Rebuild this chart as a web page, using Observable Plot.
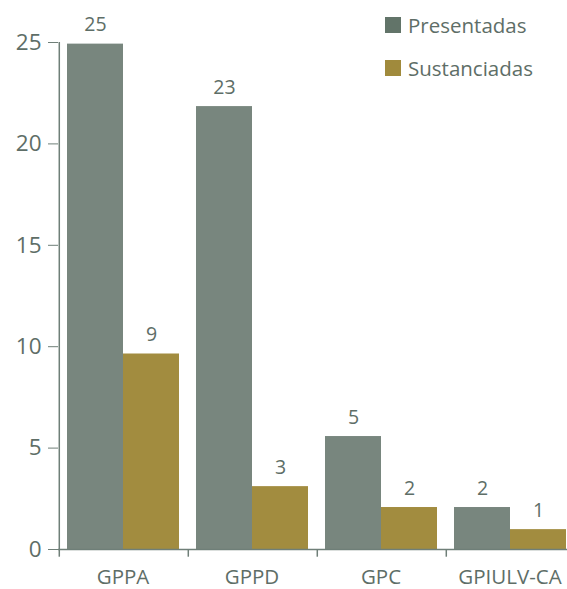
<!DOCTYPE html>
<html>
<head>
<meta charset="utf-8">
<script src="https://cdn.jsdelivr.net/npm/d3@7"></script>
<script src="https://cdn.jsdelivr.net/npm/@observablehq/plot@0.6"></script>
<style>
  html, body { margin: 0; padding: 0; background: #fff; overflow: hidden; }
  #wrap { position: relative; width: 567px; height: 589px; overflow: hidden; font-family: "Open Sans", sans-serif; }
  #wrap svg { max-width: none !important; display: block; }
  .legend { position: absolute; left: 385px; top: 12px; color: #5e6e67; font-size: 20.5px; }
  .legend .row { display: flex; align-items: center; height: 26px; margin-bottom: 17px; }
  .legend .sw { width: 16px; height: 16px; margin-right: 7px; }
</style>
</head>
<body>
<div id="wrap"></div>
<script>
const categories = ["GPPA", "GPPD", "GPC", "GPIULV-CA"];
const series = ["Presentadas", "Sustanciadas"];
const presentadas = [24.92, 21.84, 5.57, 2.07];
const sustanciadas = [9.64, 3.1, 2.07, 0.98];
const presentadasLabels = ["25", "23", "5", "2"];
const sustanciadasLabels = ["9", "3", "2", "1"];
const yTicks = [0, 5, 10, 15, 20, 25];
const barColors = ["#78867e", "#a28c3f"];
const swatchColors = ["#627469", "#a08a3c"];

const data = [];
categories.forEach((c, i) => {
  data.push({cat: c, series: series[0], value: presentadas[i], label: presentadasLabels[i]});
  data.push({cat: c, series: series[1], value: sustanciadas[i], label: sustanciadasLabels[i]});
});

const W = 574, H = 589, mL = 58, mR = 0, mT = 42, mB = 40;
const pOuter = 0.14;
const facetStep = (W - mL - mR) / categories.length;
const innerStep = facetStep / (series.length + 2 * pOuter);
const edgeDx = -(innerStep / 2 + pOuter * innerStep);
const textColor = "#5e6e67";
const lineColor = "#6f7f78";

const plot = Plot.plot({
  width: W, height: H,
  marginTop: mT, marginBottom: mB, marginLeft: mL, marginRight: mR,
  style: {fontFamily: "'Open Sans', sans-serif", color: textColor, background: "transparent", maxWidth: "none"},
  fx: {domain: categories, padding: 0, label: null, axis: null},
  x: {domain: series, paddingInner: 0, paddingOuter: pOuter, axis: null},
  y: {domain: [0, 25], label: null, axis: null},
  color: {domain: series, range: barColors},
  marks: [
    Plot.barY(data, {fx: "cat", x: "series", y: "value", fill: "series"}),
    Plot.text(data, {fx: "cat", x: "series", y: "value", text: "label", dy: -13, lineAnchor: "bottom", fontSize: 19.5, fill: textColor}),
    Plot.ruleY([0], {stroke: lineColor, strokeWidth: 1.5}),
    Plot.ruleX(categories, {fx: d => d, x: () => series[0], y1: 0, y2: -0.38, dx: edgeDx, stroke: lineColor, strokeWidth: 1.5}),
    Plot.ruleX([categories[0]], {fx: d => d, x: () => series[0], y1: 0, y2: 25, dx: edgeDx, stroke: lineColor, strokeWidth: 1.5}),
    Plot.axisY({ticks: yTicks, tickSize: 10, tickPadding: 7, fontSize: 22.5, stroke: lineColor, fill: textColor, label: null, tickFormat: d => String(d)}),
    Plot.axisFx({anchor: "bottom", tickSize: 0, tickPadding: 20, fontSize: 20.5, fill: textColor, label: null})
  ]
});

const wrap = document.getElementById("wrap");
wrap.appendChild(plot);

const legend = document.createElement("div");
legend.className = "legend";
series.forEach((s, i) => {
  const row = document.createElement("div");
  row.className = "row";
  const sw = document.createElement("div");
  sw.className = "sw";
  sw.style.background = swatchColors[i];
  const t = document.createElement("span");
  t.textContent = s;
  row.appendChild(sw);
  row.appendChild(t);
  legend.appendChild(row);
});
wrap.appendChild(legend);
</script>
</body>
</html>
